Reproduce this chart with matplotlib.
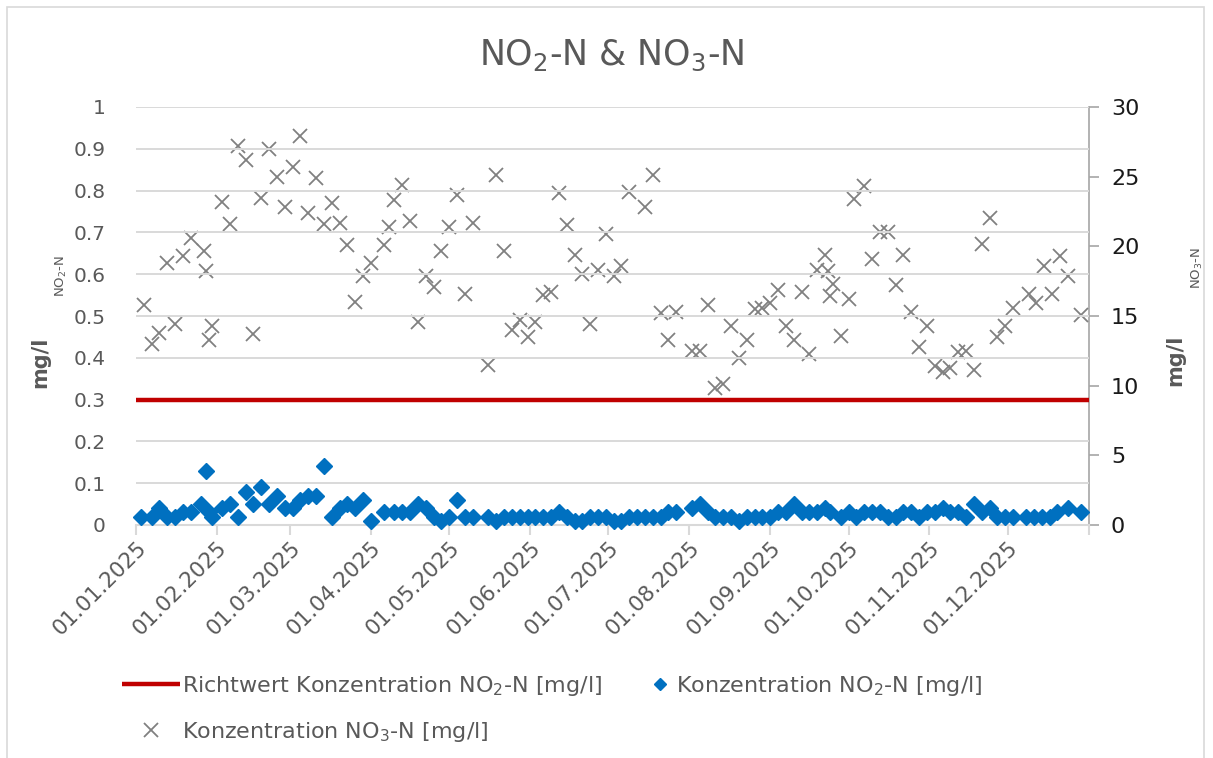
import matplotlib
matplotlib.use("Agg")
import matplotlib.pyplot as plt
import pandas as pd
import numpy as np

plt.rcParams['font.family'] = ['DejaVu Sans']
plt.rcParams['mathtext.fontset'] = 'dejavusans'

# ---------------- data ----------------
no3_dates = ["2025-01-04", "2025-01-07", "2025-01-10", "2025-01-13", "2025-01-16", "2025-01-19",
             "2025-01-22", "2025-01-27", "2025-01-28", "2025-01-29", "2025-01-30", "2025-02-03",
             "2025-02-06", "2025-02-09", "2025-02-12", "2025-02-15", "2025-02-18", "2025-02-21",
             "2025-02-24", "2025-02-27", "2025-03-02", "2025-03-05", "2025-03-08", "2025-03-11",
             "2025-03-14", "2025-03-17", "2025-03-20", "2025-03-23", "2025-03-26", "2025-03-29",
             "2025-04-01", "2025-04-06", "2025-04-08", "2025-04-10", "2025-04-13", "2025-04-16",
             "2025-04-19", "2025-04-22", "2025-04-25", "2025-04-28", "2025-05-01", "2025-05-04",
             "2025-05-07", "2025-05-10", "2025-05-16", "2025-05-19", "2025-05-22", "2025-05-25",
             "2025-05-28", "2025-05-31", "2025-06-03", "2025-06-06", "2025-06-09", "2025-06-12",
             "2025-06-15", "2025-06-18", "2025-06-21", "2025-06-24", "2025-06-27", "2025-06-30",
             "2025-07-03", "2025-07-06", "2025-07-09", "2025-07-15", "2025-07-18", "2025-07-21",
             "2025-07-24", "2025-07-27", "2025-08-02", "2025-08-05", "2025-08-08", "2025-08-11",
             "2025-08-14", "2025-08-17", "2025-08-20", "2025-08-23", "2025-08-26", "2025-08-29",
             "2025-09-01", "2025-09-04", "2025-09-07", "2025-09-10", "2025-09-13", "2025-09-16",
             "2025-09-19", "2025-09-22", "2025-09-23", "2025-09-24", "2025-09-25", "2025-09-28",
             "2025-10-01", "2025-10-03", "2025-10-07", "2025-10-10", "2025-10-13", "2025-10-16",
             "2025-10-19", "2025-10-22", "2025-10-25", "2025-10-28", "2025-10-31", "2025-11-03",
             "2025-11-06", "2025-11-09", "2025-11-12", "2025-11-15", "2025-11-18", "2025-11-21",
             "2025-11-24", "2025-11-27", "2025-11-30", "2025-12-03", "2025-12-09", "2025-12-12",
             "2025-12-15", "2025-12-18", "2025-12-21", "2025-12-24", "2025-12-29"]
no3_values = [15.8, 13.0, 13.8, 18.8, 14.4, 19.3,
              20.6, 19.7, 18.2, 13.3, 14.3, 23.2,
              21.6, 27.2, 26.2, 13.7, 23.5, 27.0,
              25.0, 22.8, 25.7, 27.9, 22.4, 24.9,
              21.6, 23.1, 21.7, 20.1, 16.0, 17.9,
              18.8, 20.1, 21.4, 23.3, 24.4, 21.8,
              14.6, 17.9, 17.1, 19.7, 21.4, 23.7,
              16.6, 21.7, 11.5, 25.1, 19.7, 14.0,
              14.7, 13.5, 14.6, 16.5, 16.7, 23.8,
              21.5, 19.4, 18.0, 14.4, 18.3, 20.9,
              17.9, 18.6, 23.9, 22.8, 25.1, 15.2,
              13.3, 15.3, 12.5, 12.5, 15.8, 9.8,
              10.1, 14.3, 12.0, 13.3, 15.5, 15.6,
              15.9, 16.9, 14.3, 13.3, 16.7, 12.3,
              18.3, 19.4, 18.2, 16.4, 17.3, 13.6,
              16.2, 23.4, 24.3, 19.1, 21.0, 21.0,
              17.2, 19.4, 15.3, 12.8, 14.3, 11.4,
              11.0, 11.3, 12.4, 12.5, 11.1, 20.2,
              22.0, 13.5, 14.3, 15.6, 16.6, 15.9,
              18.6, 16.6, 19.3, 17.9, 15.1]

no2_dates = ["2025-01-03", "2025-01-07", "2025-01-10", "2025-01-13", "2025-01-16", "2025-01-19",
             "2025-01-22", "2025-01-26", "2025-01-28", "2025-01-29", "2025-01-30", "2025-02-03",
             "2025-02-06", "2025-02-09", "2025-02-12", "2025-02-15", "2025-02-18", "2025-02-21",
             "2025-02-24", "2025-02-27", "2025-03-02", "2025-03-05", "2025-03-08", "2025-03-11",
             "2025-03-14", "2025-03-17", "2025-03-20", "2025-03-23", "2025-03-26", "2025-03-29",
             "2025-04-01", "2025-04-06", "2025-04-10", "2025-04-13", "2025-04-16", "2025-04-19",
             "2025-04-22", "2025-04-25", "2025-04-28", "2025-05-01", "2025-05-04", "2025-05-07",
             "2025-05-10", "2025-05-16", "2025-05-19", "2025-05-22", "2025-05-25", "2025-05-28",
             "2025-05-31", "2025-06-03", "2025-06-06", "2025-06-09", "2025-06-12", "2025-06-15",
             "2025-06-18", "2025-06-21", "2025-06-24", "2025-06-27", "2025-06-30", "2025-07-03",
             "2025-07-06", "2025-07-09", "2025-07-12", "2025-07-15", "2025-07-18", "2025-07-21",
             "2025-07-24", "2025-07-27", "2025-08-02", "2025-08-05", "2025-08-08", "2025-08-11",
             "2025-08-14", "2025-08-17", "2025-08-20", "2025-08-23", "2025-08-26", "2025-08-29",
             "2025-09-01", "2025-09-04", "2025-09-07", "2025-09-10", "2025-09-13", "2025-09-16",
             "2025-09-19", "2025-09-22", "2025-09-24", "2025-09-28", "2025-10-01", "2025-10-04",
             "2025-10-07", "2025-10-10", "2025-10-13", "2025-10-16", "2025-10-19", "2025-10-22",
             "2025-10-25", "2025-10-28", "2025-10-31", "2025-11-03", "2025-11-06", "2025-11-09",
             "2025-11-12", "2025-11-15", "2025-11-18", "2025-11-21", "2025-11-24", "2025-11-27",
             "2025-11-30", "2025-12-03", "2025-12-08", "2025-12-11", "2025-12-14", "2025-12-17",
             "2025-12-20", "2025-12-24", "2025-12-29"]
no2_values = [0.02, 0.02, 0.04, 0.02, 0.02, 0.03,
              0.03, 0.05, 0.13, 0.03, 0.02, 0.04,
              0.05, 0.02, 0.08, 0.05, 0.09, 0.05,
              0.07, 0.04, 0.04, 0.06, 0.07, 0.07,
              0.14, 0.02, 0.04, 0.05, 0.04, 0.06,
              0.01, 0.03, 0.03, 0.03, 0.03, 0.05,
              0.04, 0.02, 0.01, 0.02, 0.06, 0.02,
              0.02, 0.02, 0.01, 0.02, 0.02, 0.02,
              0.02, 0.02, 0.02, 0.02, 0.03, 0.02,
              0.01, 0.01, 0.02, 0.02, 0.02, 0.01,
              0.01, 0.02, 0.02, 0.02, 0.02, 0.02,
              0.03, 0.03, 0.04, 0.05, 0.03, 0.02,
              0.02, 0.02, 0.01, 0.02, 0.02, 0.02,
              0.02, 0.03, 0.03, 0.05, 0.03, 0.03,
              0.03, 0.04, 0.03, 0.02, 0.03, 0.02,
              0.03, 0.03, 0.03, 0.02, 0.02, 0.03,
              0.03, 0.02, 0.03, 0.03, 0.04, 0.03,
              0.03, 0.02, 0.05, 0.03, 0.04, 0.02,
              0.02, 0.02, 0.02, 0.02, 0.02, 0.02,
              0.03, 0.04, 0.03]

richtwert_no2 = 0.3
month_ticks = ["2025-01-01", "2025-02-01", "2025-03-01", "2025-04-01", "2025-05-01", "2025-06-01",
               "2025-07-01", "2025-08-01", "2025-09-01", "2025-10-01", "2025-11-01", "2025-12-01",
               "2026-01-01"]
month_labels = ["01.01.2025", "01.02.2025", "01.03.2025", "01.04.2025", "01.05.2025", "01.06.2025",
                "01.07.2025", "01.08.2025", "01.09.2025", "01.10.2025", "01.11.2025", "01.12.2025", ""]
left_tick_labels = ["0", "0.1", "0.2", "0.3", "0.4", "0.5", "0.6", "0.7", "0.8", "0.9", "1"]

title = "NO$_2$-N & NO$_3$-N"
label_red = "Richtwert Konzentration NO$_2$-N [mg/l]"
label_no2 = "Konzentration NO$_2$-N [mg/l]"
label_no3 = "Konzentration NO$_3$-N [mg/l]"

# ---------------- figure ----------------
W, H = 1213, 758
fig = plt.figure(figsize=(W / 100, H / 100), dpi=100)
L, R, T, B = 136, 1088.7, 107, 525
ax = fig.add_axes([L / W, 1 - B / H, (R - L) / W, (B - T) / H])
ax2 = ax.twinx()

txt_gray = "#595959"
grid_c = "#d9d9d9"

x_no3 = pd.to_datetime(no3_dates)
x_no2 = pd.to_datetime(no2_dates)
ticks = pd.to_datetime(month_ticks)
xmin, xmax = ticks[0], ticks[-1]

red_line, = ax.plot([xmin, xmax], [richtwert_no2, richtwert_no2], color="#c00000", lw=3.2,
                    solid_capstyle="butt", zorder=3)
no2_line, = ax.plot(x_no2, no2_values, linestyle="none", marker="D", ms=8.5, color="#0070c0",
                    mec="#0070c0", zorder=4, clip_on=False)
no3_line, = ax2.plot(x_no3, no3_values, linestyle="none", marker="x", ms=10, mew=1.3,
                     color="#808080", zorder=4)

ax.set_xlim(xmin, xmax)
ax.set_ylim(0, 1)
ax.set_yticks(np.arange(0, 1.01, 0.1))
ax.set_yticklabels(left_tick_labels)
ax2.set_ylim(0, 30)
ax2.set_yticks(np.arange(0, 31, 5))

ax.grid(axis="y", color=grid_c, lw=1.4, zorder=0)
ax.set_axisbelow(True)
ax.set_zorder(ax2.get_zorder() + 1)
ax.patch.set_visible(False)

for s in ["top", "left", "right"]:
    ax.spines[s].set_visible(False)
ax.spines["bottom"].set_color(grid_c)
ax.spines["bottom"].set_linewidth(1.5)
for s in ["top", "left", "bottom"]:
    ax2.spines[s].set_visible(False)
ax2.spines["right"].set_color("#a6a6a6")
ax2.spines["right"].set_linewidth(1.2)

ax.set_xticks(ticks)
ax.set_xticklabels(month_labels, rotation=45, ha="right", va="top", rotation_mode="anchor")
ax.tick_params(axis="x", colors=grid_c, length=7, width=1.5, labelsize=15.5, labelcolor=txt_gray, pad=2)
ax.tick_params(axis="y", length=0, labelsize=14.5, labelcolor=txt_gray, pad=22)
ax2.tick_params(axis="y", colors="#a6a6a6", length=7, width=1.2, labelsize=16, labelcolor="#1a1a1a", pad=9)

fig.text(612 / W, 1 - 55 / H, title, ha="center", va="center", fontsize=25, color=txt_gray)

fig.text(40 / W, 1 - 362 / H, "mg/l", rotation=90, ha="center", va="center", fontsize=15,
         fontweight="bold", color=txt_gray)
fig.text(61 / W, 1 - 276 / H, "NO$_2$-N", rotation=90, ha="center", va="center", fontsize=9.5,
         color=txt_gray)
fig.text(1175 / W, 1 - 360 / H, "mg/l", rotation=90, ha="center", va="center", fontsize=15,
         fontweight="bold", color=txt_gray)
fig.text(1197 / W, 1 - 268 / H, "NO$_3$-N", rotation=90, ha="center", va="center", fontsize=9.5,
         color=txt_gray)

leg1 = fig.legend([red_line, no3_line], [label_red, label_no3], loc="upper left",
                  bbox_to_anchor=(122 / W, 1 - 674 / H), frameon=False, fontsize=16,
                  handlelength=2.6, handletextpad=0.1, borderpad=0, borderaxespad=0,
                  labelspacing=1.0, labelcolor=txt_gray)
leg2 = fig.legend([no2_line], [label_no2], loc="upper left",
                  bbox_to_anchor=(650 / W, 1 - 674 / H), frameon=False, fontsize=16,
                  handlelength=0.9, handletextpad=0.25, borderpad=0, borderaxespad=0,
                  labelcolor=txt_gray, markerscale=0.75)

fig.patches.append(plt.Rectangle((7 / W, -0.01), (1204 - 7) / W, 1 - 7 / H + 0.01,
                                 transform=fig.transFigure, fill=False, ec="#d9d9d9", lw=1.2))

fig.savefig("out.png", dpi=100)
